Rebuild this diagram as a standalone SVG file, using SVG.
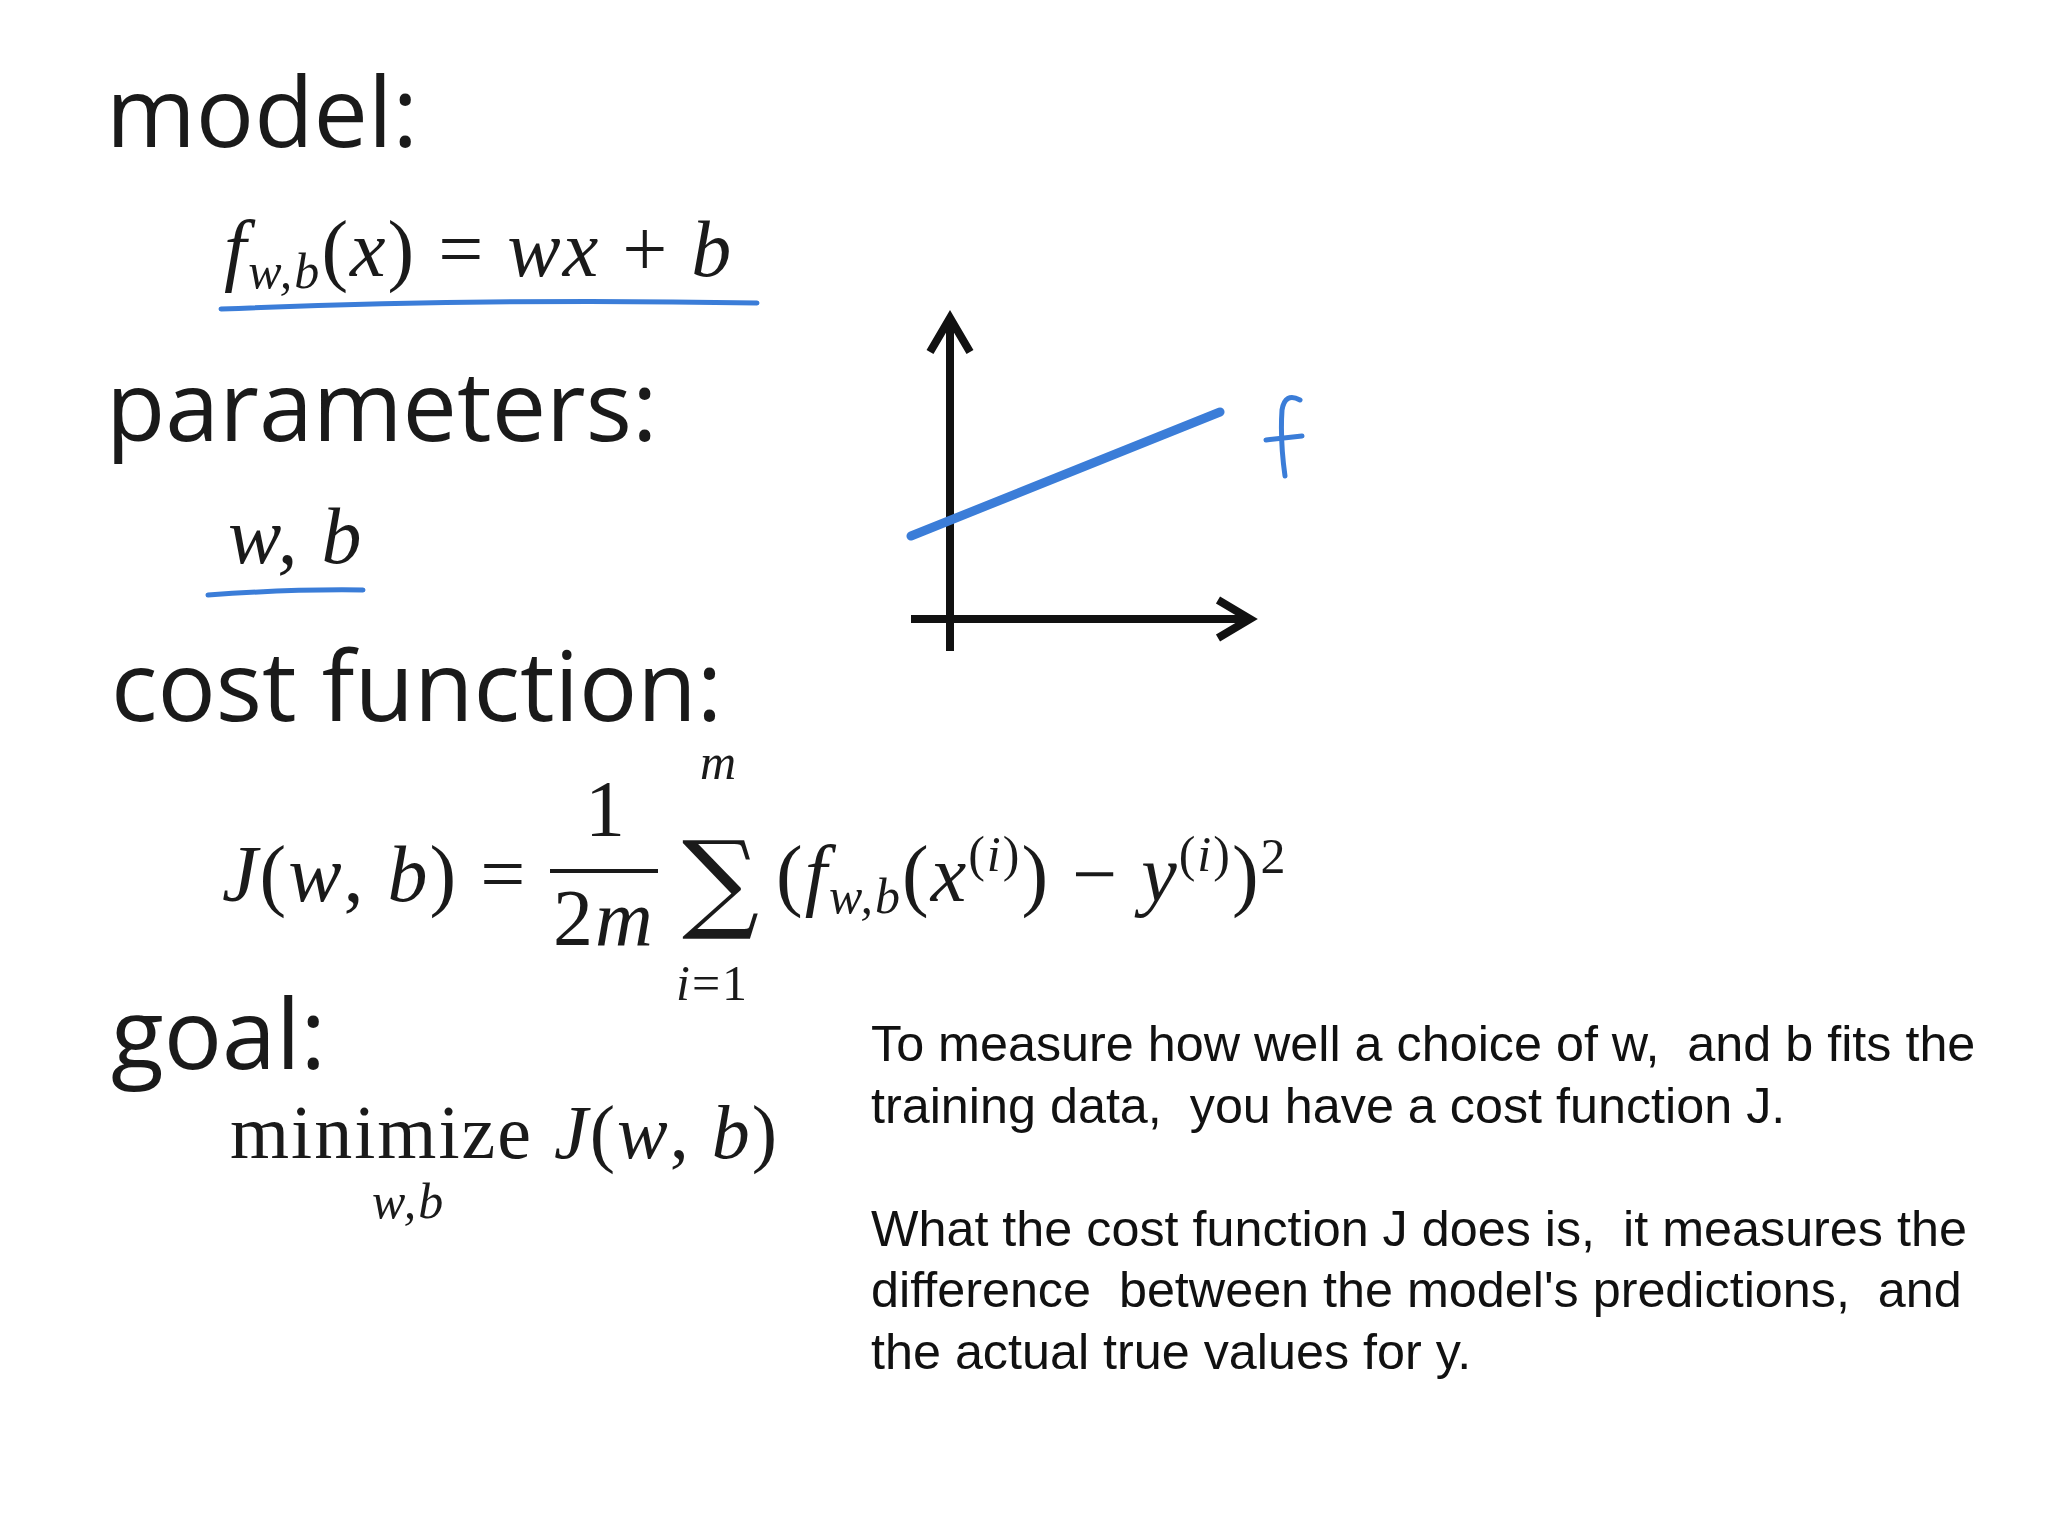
<svg xmlns="http://www.w3.org/2000/svg" width="2048" height="1536" viewBox="0 0 2048 1536">
<style>
.h{font-family:"Open Sans","Noto Sans",sans-serif;font-size:97px;fill:#1a1a1a}
.m{font-family:"Liberation Serif","DejaVu Serif",serif;font-size:80px;fill:#1a1a1a;letter-spacing:2px}
.i{font-style:italic}
.s{font-size:50px}
.t{font-family:"Liberation Sans",Arial,sans-serif;font-size:50.3px;fill:#111;white-space:pre}
.ax{stroke:#111;stroke-width:8;fill:none}
.bl{stroke:#3b7dd8;fill:none;stroke-linecap:round}
</style>
<rect width="2048" height="1536" fill="#fff"/>
<g id="labels">
<text class="h" x="106" y="147">model:</text>
<text class="h" x="106" y="441">parameters:</text>
<text class="h" x="111" y="721">cost function:</text>
<text class="h" x="111" y="1069">goal:</text>
</g>
<g id="model-formula">
<text class="m" x="224" y="276"><tspan class="i">f</tspan><tspan class="i s" dy="12">w,b</tspan><tspan dy="-12">(</tspan><tspan class="i">x</tspan>) = <tspan class="i">wx</tspan> + <tspan class="i">b</tspan></text>
<path class="bl" stroke-width="5" d="M221,309 Q490,298 757,303"/>
</g>
<g id="params">
<text class="m i" x="228" y="563">w, b</text>
<path class="bl" stroke-width="5" d="M208,595 Q290,589 363,590"/>
</g>
<g id="cost">
<text class="m" x="222" y="901"><tspan class="i">J</tspan>(<tspan class="i">w</tspan>, <tspan class="i">b</tspan>) =</text>
<text class="m" x="585" y="836">1</text>
<line x1="550" y1="871" x2="658" y2="871" stroke="#1a1a1a" stroke-width="4"/>
<text class="m" x="553" y="945">2<tspan class="i">m</tspan></text>
<text class="m i s" x="700" y="779">m</text>
<text x="682" y="918" style="font-family:'DejaVu Serif',serif;font-size:108px;fill:#1a1a1a">∑</text>
<text class="m s" x="676" y="1000"><tspan class="i">i</tspan>=1</text>
<text class="m" x="776" y="901">(<tspan class="i">f</tspan><tspan class="i s" dy="12">w,b</tspan><tspan dy="-12">(</tspan><tspan class="i">x</tspan><tspan class="s" dy="-30">(<tspan class="i">i</tspan>)</tspan><tspan dy="30">)</tspan>  −  <tspan class="i">y</tspan><tspan class="s" dy="-30">(<tspan class="i">i</tspan>)</tspan><tspan dy="30">)</tspan><tspan class="s" dy="-28">2</tspan></text>
</g>
<g id="goal">
<text class="m" x="230" y="1158" style="font-size:76px">minimize <tspan class="i">J</tspan>(<tspan class="i">w</tspan>, <tspan class="i">b</tspan>)</text>
<text class="m i s" x="372" y="1218">w,b</text>
</g>
<g id="graph">
<path class="ax" d="M950,651 V318 M930,352 L950,318 L970,352"/>
<path class="ax" d="M911,619 H1250 M1218,600 L1250,619 L1218,638"/>
<path class="bl" stroke-width="9" d="M911,536 L1220,412"/>
<path class="bl" stroke-width="5" d="M1300,400 Q1285,392 1282,410 Q1280,440 1285,476 M1266,440 L1302,436"/>
</g>
<g id="note">
<text class="t" x="871" y="1061">To measure how well a choice of w,  and b fits the</text>
<text class="t" x="871" y="1123">training data,  you have a cost function J.</text>
<text class="t" x="871" y="1246">What the cost function J does is,  it measures the</text>
<text class="t" x="871" y="1307">difference  between the model's predictions,  and</text>
<text class="t" x="871" y="1369">the actual true values for y.</text>
</g>
</svg>
